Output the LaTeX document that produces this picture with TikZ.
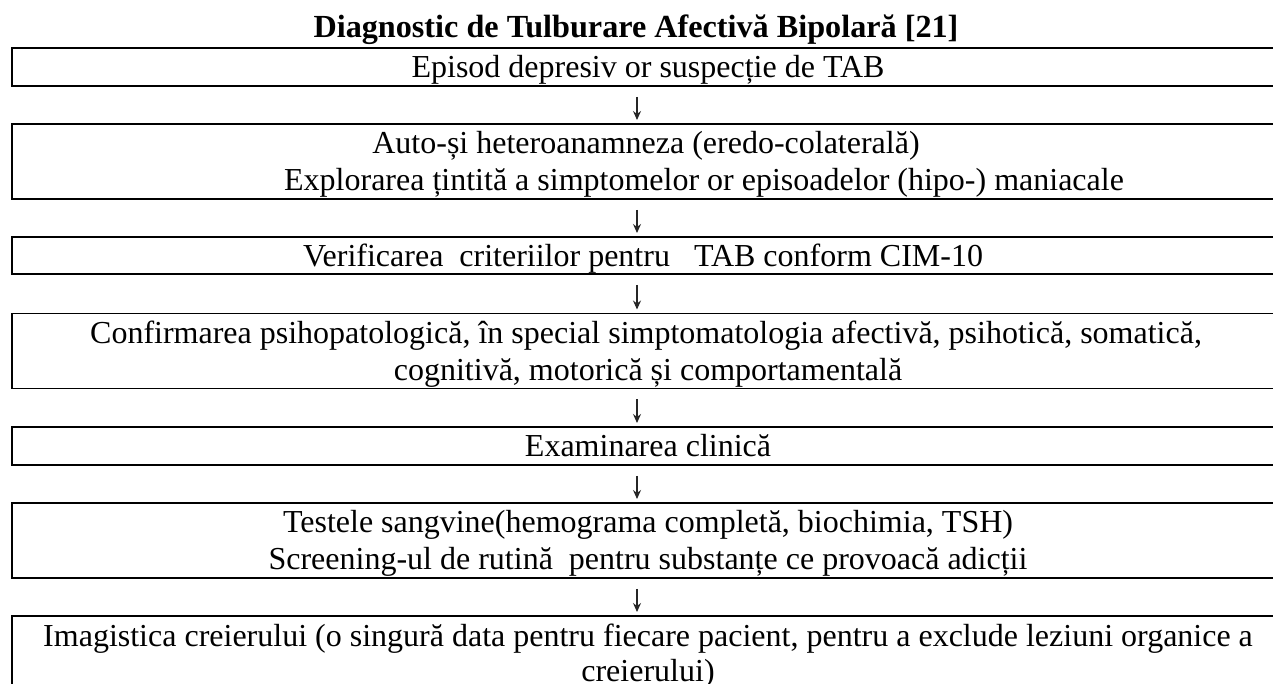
\documentclass[tikz,border=0pt]{standalone}
\usepackage{fontspec}
\setmainfont{Liberation Serif}
\usetikzlibrary{arrows.meta}
\tikzset{
  box/.style={draw=black, line width=0.9pt, rectangle, inner sep=0pt, anchor=north west},
  txt/.style={inner sep=0pt, anchor=base, font=\fontsize{16pt}{18.5pt}\selectfont},
  ttl/.style={inner sep=0pt, anchor=base, font=\fontsize{16.1pt}{18.5pt}\selectfont\bfseries},
  conn/.style={-{Stealth[length=4.5pt,width=4pt,inset=1.5pt]}, line width=0.55pt, draw=black!85, shorten <=5pt, shorten >=1.5pt}
}
\begin{document}
\begin{tikzpicture}[x=0.5pt,y=-0.5pt]
\clip (0,0) rectangle (1273,684);
\fill[white] (0,0) rectangle (1273,684);
% title
\node[ttl] (title) at (636,38) {Diagnostic de Tulburare Afectivă Bipolară [21]};
% boxes
\node[box, minimum width=650pt, minimum height=19pt] (b1) at (11,47) {};
\node[box, minimum width=650pt, minimum height=37.5pt] (b2) at (11,123) {};
\node[box, minimum width=650pt, minimum height=18.5pt] (b3) at (11,236) {};
\node[box, minimum width=650pt, minimum height=37.5pt] (b4) at (11,312.5) {};
\node[box, minimum width=650pt, minimum height=19pt] (b5) at (11,426) {};
\node[box, minimum width=650pt, minimum height=37.5pt] (b6) at (11,502) {};
\node[box, minimum width=650pt, minimum height=40pt] (b7) at (11,615) {};
% texts
\node[txt] (t1) at (648,77.5) {Episod depresiv or suspecție de TAB};
\node[txt] (t2a) at (646,153.5) {Auto-și heteroanamneza (eredo-colaterală)};
\node[txt] (t2b) at (704,190.5) {Explorarea țintită a simptomelor or episoadelor (hipo-) maniacale};
\node[txt] (t3) at (643,266.5) {Verificarea\ \ criteriilor pentru\ \ \ TAB conform CIM-10};
\node[txt] (t4a) at (646,343) {Confirmarea psihopatologică, în special simptomatologia afectivă, psihotică, somatică,};
\node[txt] (t4b) at (648,380) {cognitivă, motorică și comportamentală};
\node[txt] (t5) at (648,456.5) {Examinarea clinică};
\node[txt] (t6a) at (648,532.5) {Testele sangvine(hemograma completă, biochimia, TSH)};
\node[txt] (t6b) at (648,569.5) {Screening-ul de rutină\ \ pentru substanțe ce provoacă adicții};
\node[txt] (t7a) at (648,646) {Imagistica creierului (o singură data pentru fiecare pacient, pentru a exclude leziuni organice a};
\node[txt] (t7b) at (648,681) {creierului)};
% connectors
\coordinate (ax) at (637,0);
\draw[conn] (b1.south -| ax) -- (b2.north -| ax);
\draw[conn] (b2.south -| ax) -- (b3.north -| ax);
\draw[conn] (b3.south -| ax) -- (b4.north -| ax);
\draw[conn] (b4.south -| ax) -- (b5.north -| ax);
\draw[conn] (b5.south -| ax) -- (b6.north -| ax);
\draw[conn] (b6.south -| ax) -- (b7.north -| ax);
\end{tikzpicture}
\end{document}
